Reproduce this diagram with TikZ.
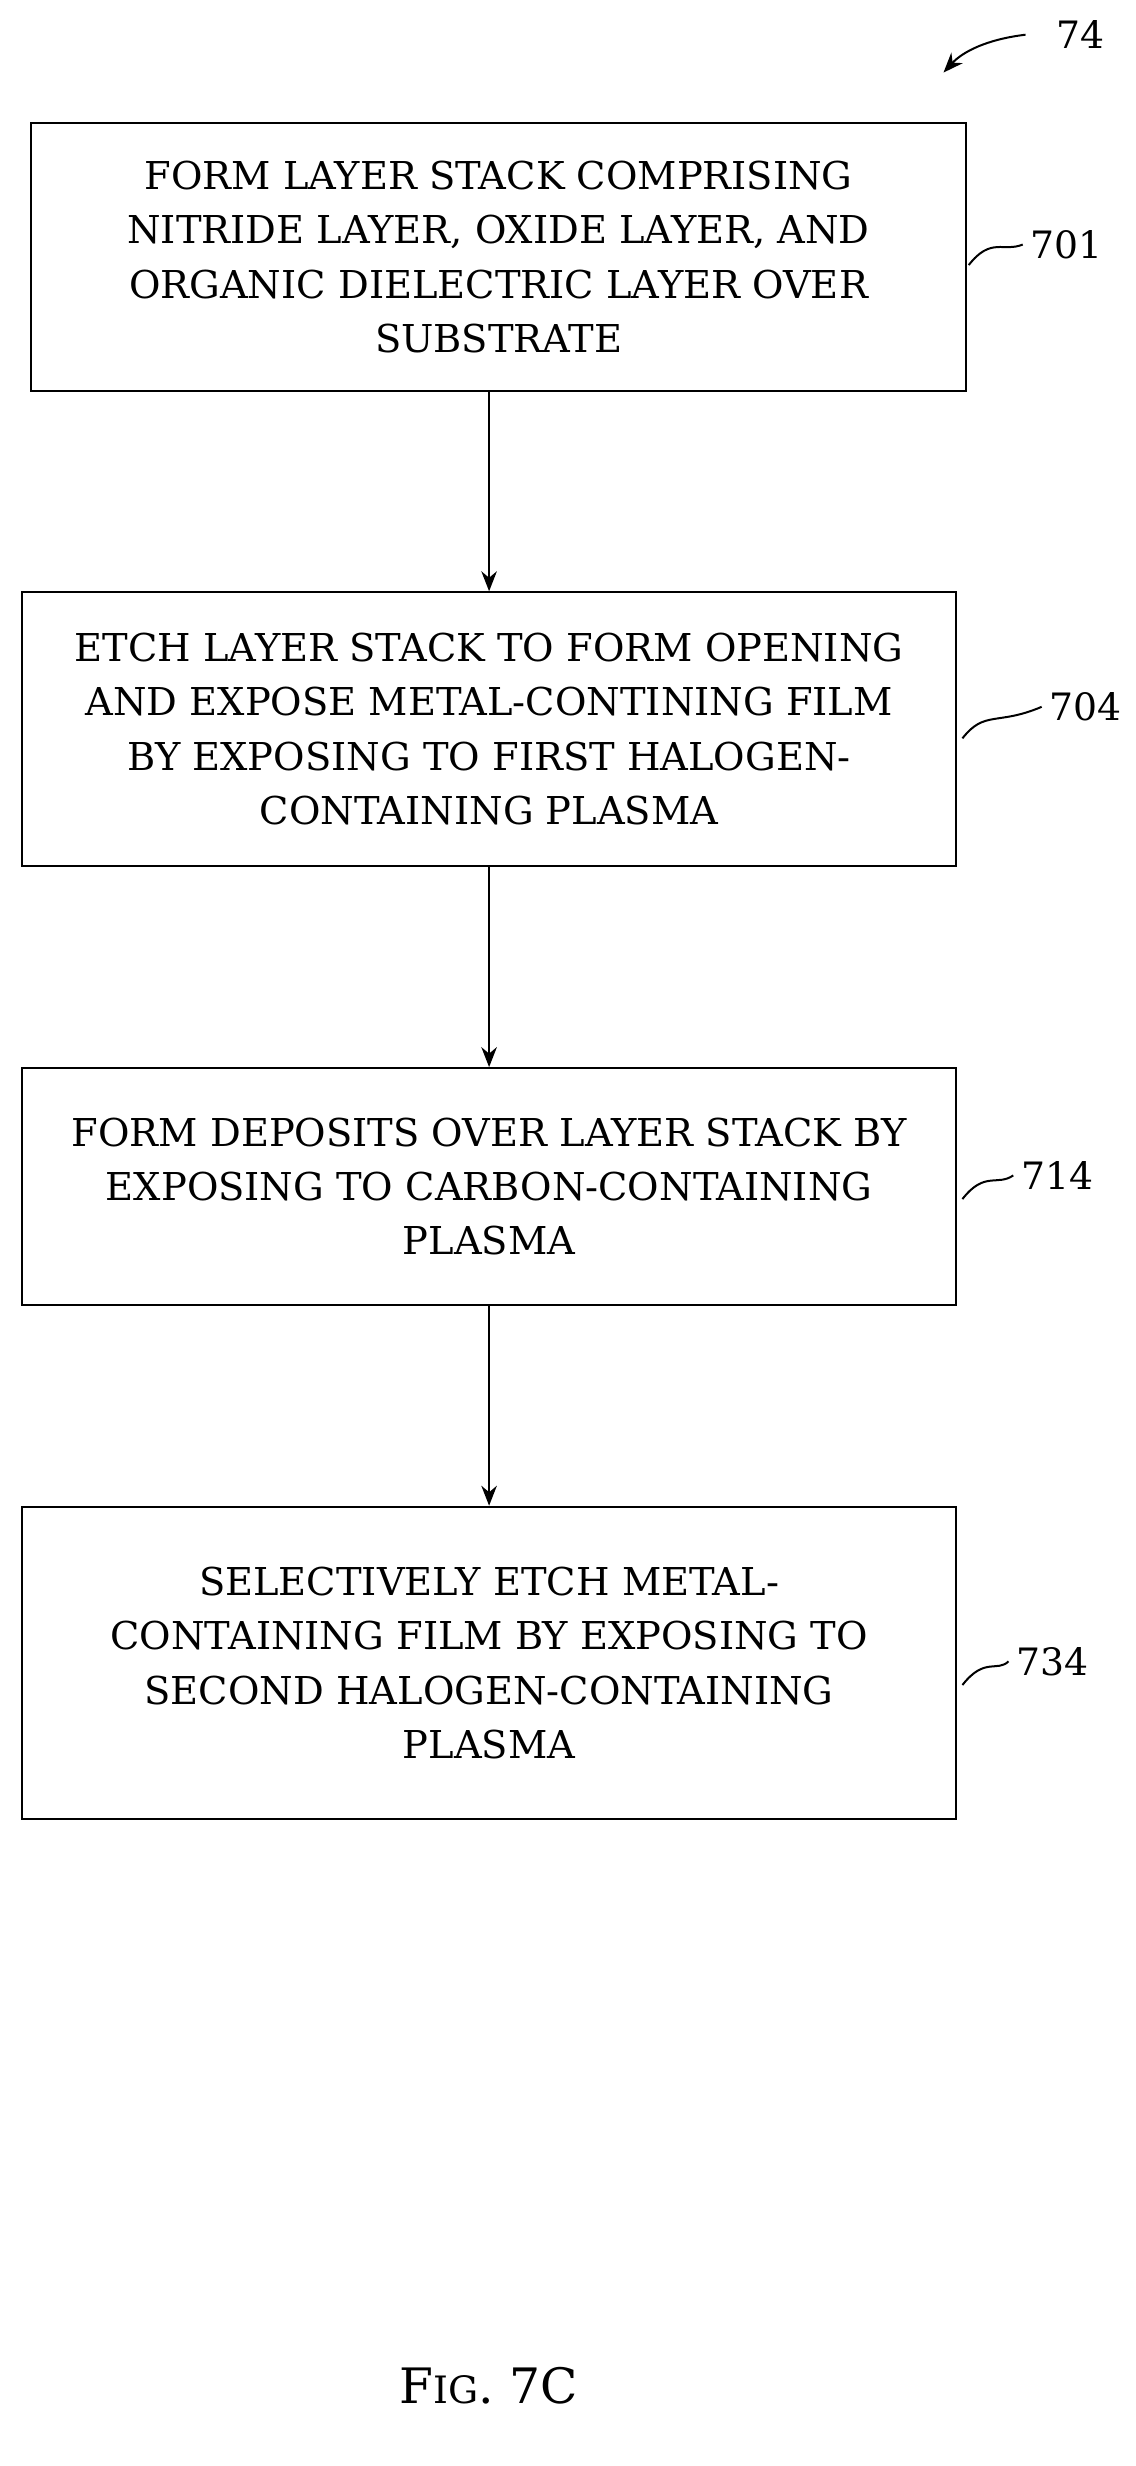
\documentclass[tikz,border=0pt]{standalone}
\usepackage{fontspec}
\setmainfont{DejaVu Serif}
\usetikzlibrary{arrows.meta}
\begin{document}
\begin{tikzpicture}[x=0.025cm,y=-0.025cm]
\tikzset{
  stage/.style={draw, line width=0.9pt, minimum width=14.8cm, align=center,
               inner sep=0cm, font=\fontsize{17.3}{24.5}\selectfont},
  tag/.style={font=\fontsize{17}{22}\selectfont},
  flow/.style={-{Stealth[length=9pt,width=7pt]}, line width=0.9pt}
}
\useasboundingbox (0,0) rectangle (720,1563);

\node[stage, minimum height=4.25cm] (s701) at (316,163) {FORM LAYER STACK COMPRISING\\NITRIDE LAYER, OXIDE LAYER, AND\\ORGANIC DIELECTRIC LAYER OVER\\SUBSTRATE};
\node[stage, minimum height=4.33cm] (s704) at (310,462) {ETCH LAYER STACK TO FORM OPENING\\AND EXPOSE METAL-CONTINING FILM\\BY EXPOSING TO FIRST HALOGEN-\\CONTAINING PLASMA};
\node[stage, minimum height=3.75cm] (s714) at (310,752) {FORM DEPOSITS OVER LAYER STACK BY\\EXPOSING TO CARBON-CONTAINING\\PLASMA};
\node[stage, minimum height=4.95cm] (s734) at (310,1054) {SELECTIVELY ETCH METAL-\\CONTAINING FILM BY EXPOSING TO\\SECOND HALOGEN-CONTAINING\\PLASMA};

\draw[flow] (s701.south -| s704.north) -- (s704.north);
\draw[flow] (s704) -- (s714);
\draw[flow] (s714) -- (s734);

% reference numerals
\node[tag] (n701) at (676,155) {701};
\node[tag] (n704) at (688,448) {704};
\node[tag] (n714) at (670,745) {714};
\node[tag] (n734) at (667,1053) {734};
\draw[line width=0.9pt] (614,168) .. controls (628,150) and (636,160) .. (n701.west);
\draw[line width=0.9pt] (610,468) .. controls (624,450) and (632,460) .. (n704.west);
\draw[line width=0.9pt] (610,760) .. controls (624,742) and (632,752) .. (n714.west);
\draw[line width=0.9pt] (610,1068) .. controls (624,1050) and (632,1060) .. (n734.west);

\node[tag] (n74) at (685,22) {74};
\coordinate (tip74) at (598,46);
\draw[flow] (650,22) .. controls (625,25) and (610,33) .. (tip74);

\node[font=\fontsize{22}{28}\selectfont] (fig) at (310,1512) {F\fontsize{17}{22}\selectfont IG\fontsize{22}{28}\selectfont. 7C};
\end{tikzpicture}
\end{document}
